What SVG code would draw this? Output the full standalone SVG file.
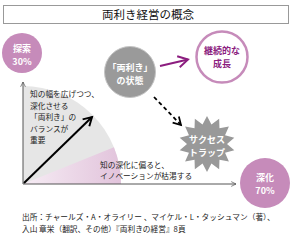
<svg xmlns="http://www.w3.org/2000/svg" width="297" height="237" viewBox="0 0 297 237">
<style>
text{font-family:"Noto Sans CJK JP","Noto Sans",sans-serif;}
.t{font-size:7.7px;fill:#222;}
.w{font-size:9px;fill:#fff;font-weight:bold;text-anchor:middle;}
.p{font-size:9px;fill:#8c1d7f;font-weight:bold;text-anchor:middle;}
.ax{stroke:#555;stroke-width:1;fill:none;}
</style>
<defs>
<linearGradient id="pg" x1="23" y1="0" x2="120" y2="0" gradientUnits="userSpaceOnUse">
<stop offset="0" stop-color="#f6ecf4"/><stop offset="1" stop-color="#e2c4dc"/>
</linearGradient>
<marker id="ah" viewBox="0 0 10 10" refX="9" refY="5" markerWidth="6" markerHeight="6" orient="auto" markerUnits="userSpaceOnUse">
<path d="M1,1 L9,5 L1,9" fill="none" stroke="#555" stroke-width="1.2"/>
</marker>
<marker id="ahb" viewBox="0 0 10 10" refX="8" refY="5" markerWidth="6" markerHeight="6" orient="auto">
<path d="M1,1 L8,5 L1,9" fill="none" stroke="#000" stroke-width="1.6"/>
</marker>
<marker id="ahp" viewBox="0 0 10 10" refX="8" refY="5" markerWidth="7" markerHeight="7" orient="auto">
<path d="M1,1 L8,5 L1,9" fill="none" stroke="#8c1d7f" stroke-width="1.4"/>
</marker>
<marker id="ahd" viewBox="0 0 10 10" refX="8" refY="5" markerWidth="6" markerHeight="6" orient="auto">
<path d="M1,1 L8,5 L1,9" fill="none" stroke="#000" stroke-width="1.6"/>
</marker>
</defs>
<g id="title">
<rect x="3.5" y="5.5" width="285" height="18" fill="#fff" stroke="#999" stroke-width="1"/>
<text x="148" y="18.5" font-size="11.5" text-anchor="middle" fill="#111">両利き経営の概念</text>
</g>
<g id="chart">
<path d="M23,184 L121,184 A98,98 0 0 0 23,86 Z" fill="#e6e6e6"/>
<path d="M23,184 L121,184 A98,98 0 0 0 113.9,147.3 Z" fill="url(#pg)"/>
<line class="ax" x1="23" y1="184" x2="23" y2="82" marker-end="url(#ah)"/>
<line class="ax" x1="23" y1="184" x2="236" y2="184" marker-end="url(#ah)"/>
<line x1="24" y1="183" x2="92" y2="117" stroke="#000" stroke-width="2" marker-end="url(#ahb)"/>
<text class="t" x="30" y="97">知の幅を広げつつ、</text>
<text class="t" x="30" y="108.5">深化させる</text>
<text class="t" x="30" y="120">「両利き」の</text>
<text class="t" x="30" y="131.5">バランスが</text>
<text class="t" x="30" y="143">重要</text>
<text class="t" x="100" y="167.5">知の深化に偏ると、</text>
<text class="t" x="100" y="179">イノベーションが枯渇する</text>
</g>
<g id="explore">
<circle cx="22" cy="53" r="20" fill="#c68bba"/>
<text class="w" x="22" y="51.5">探索</text>
<text class="w" x="22" y="64.5">30%</text>
</g>
<g id="state">
<circle cx="130" cy="72" r="25.5" fill="#9a9a9a" stroke="#c4c4c4" stroke-width="1"/>
<text class="w" x="130" y="71" font-weight="normal">「両利き」</text>
<text class="w" x="130" y="84" font-weight="normal">の状態</text>
</g>
<g id="growth">
<circle cx="222" cy="57" r="25.5" fill="#fff" stroke="#c68bba" stroke-width="2.5"/>
<text class="p" x="222" y="53.5">継続的な</text>
<text class="p" x="222" y="66.5">成長</text>
</g>
<g id="trap">
<polygon fill="#999" points="207,116 211.45,124.5 219.15,118.77 219.47,128.36 228.89,126.54 225.02,135.32 234.3,137.77 227,144 234.3,150.23 225.02,152.68 228.89,161.46 219.47,159.64 219.15,169.23 211.45,163.5 207,172 202.55,163.5 194.85,169.23 194.53,159.64 185.11,161.46 188.98,152.68 179.7,150.23 187,144 179.7,137.77 188.98,135.32 185.11,126.54 194.53,128.36 194.85,118.77 202.55,124.5"/>
<text class="w" x="207" y="142.5">サクセス</text>
<text class="w" x="207" y="155.5">トラップ</text>
</g>
<g id="deepen">
<circle cx="265" cy="183" r="25" fill="#c68bba"/>
<text class="w" x="265" y="180.5">深化</text>
<text class="w" x="265" y="193.5">70%</text>
</g>
<g id="connectors">
<line x1="160" y1="66" x2="188" y2="59.5" stroke="#8c1d7f" stroke-width="2" marker-end="url(#ahp)"/>
<line x1="154" y1="97" x2="181" y2="125" stroke="#000" stroke-width="1.8" stroke-dasharray="4,3" marker-end="url(#ahd)"/>
</g>
<g id="source">
<text class="t" x="22" y="220">出所：チャールズ・A・オライリー 、マイケル・L・タッシュマン（著）、</text>
<text class="t" x="22" y="232">入山 章栄（翻訳、その他）『両利きの経営』8頁</text>
</g>
</svg>
